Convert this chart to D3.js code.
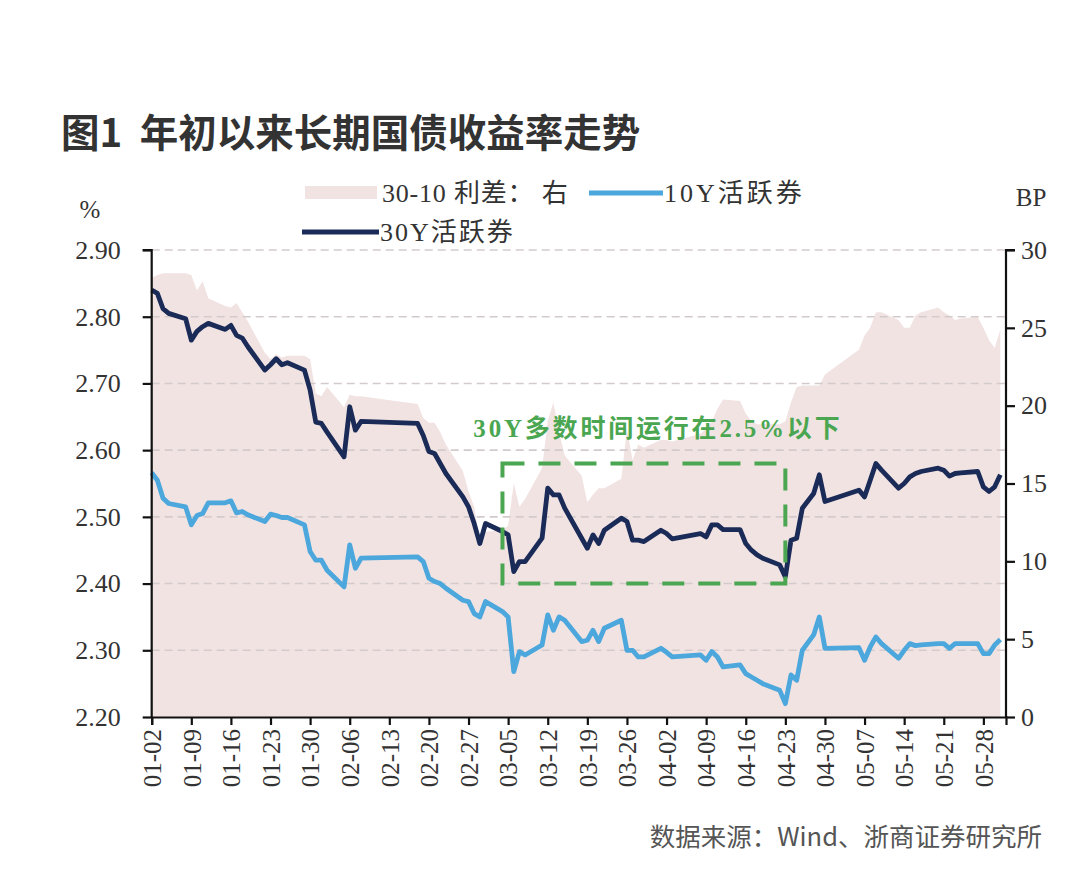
<!DOCTYPE html>
<html><head><meta charset="utf-8">
<script src="https://cdn.jsdelivr.net/npm/d3@7"></script>
<style>body{margin:0;background:#fff}</style>
</head><body>
<svg id="c" width="1082" height="880"></svg>
<script>
const dates = ["01-02","01-03","01-04","01-05","01-08","01-09","01-10","01-11","01-12","01-15","01-16","01-17","01-18","01-19","01-22","01-23","01-24","01-25","01-26","01-29","01-30","01-31","02-01","02-02","02-05","02-06","02-07","02-08","02-18","02-19","02-20","02-21","02-22","02-23","02-26","02-27","02-28","02-29","03-01","03-04","03-05","03-06","03-07","03-08","03-11","03-12","03-13","03-14","03-15","03-18","03-19","03-20","03-21","03-22","03-25","03-26","03-27","03-28","03-29","04-01","04-02","04-03","04-08","04-09","04-10","04-11","04-12","04-15","04-16","04-17","04-18","04-19","04-22","04-23","04-24","04-25","04-26","04-28","04-29","04-30","05-06","05-07","05-08","05-09","05-10","05-13","05-14","05-15","05-16","05-17","05-20","05-21","05-22","05-23","05-24","05-27","05-28","05-29","05-30","05-31"];
const y30 = [2.840,2.835,2.812,2.805,2.797,2.765,2.778,2.785,2.790,2.781,2.787,2.772,2.768,2.755,2.720,2.728,2.737,2.728,2.731,2.720,2.690,2.642,2.640,2.627,2.590,2.665,2.630,2.643,2.640,2.622,2.598,2.595,2.580,2.565,2.530,2.515,2.490,2.460,2.490,2.478,2.473,2.418,2.433,2.433,2.468,2.543,2.533,2.533,2.513,2.468,2.453,2.473,2.460,2.480,2.498,2.493,2.465,2.465,2.463,2.480,2.475,2.467,2.475,2.470,2.488,2.488,2.481,2.481,2.460,2.450,2.443,2.438,2.428,2.410,2.465,2.468,2.513,2.535,2.563,2.523,2.540,2.530,2.555,2.580,2.570,2.543,2.550,2.560,2.565,2.568,2.573,2.570,2.561,2.565,2.566,2.568,2.545,2.538,2.545,2.563];
const y10 = [2.566,2.555,2.528,2.520,2.515,2.488,2.502,2.505,2.521,2.521,2.524,2.506,2.508,2.503,2.493,2.504,2.502,2.499,2.499,2.488,2.448,2.435,2.435,2.420,2.395,2.458,2.423,2.438,2.440,2.433,2.408,2.403,2.400,2.393,2.375,2.373,2.355,2.350,2.373,2.358,2.350,2.268,2.298,2.293,2.308,2.353,2.330,2.350,2.345,2.313,2.315,2.330,2.313,2.333,2.345,2.300,2.300,2.290,2.290,2.303,2.297,2.290,2.293,2.285,2.298,2.290,2.275,2.278,2.265,2.260,2.255,2.250,2.240,2.220,2.263,2.255,2.300,2.323,2.350,2.303,2.304,2.285,2.305,2.320,2.310,2.288,2.300,2.310,2.307,2.308,2.310,2.310,2.303,2.310,2.310,2.310,2.295,2.295,2.308,2.316];
const spread = [28.2,28.4,28.5,28.5,28.5,28.4,27.4,28.0,26.9,26.4,26.3,26.6,26.0,25.4,23.4,23.0,23.3,23.1,23.2,23.2,23.0,20.8,20.6,21.2,19.9,20.7,20.6,20.6,20.1,19.2,18.9,18.9,18.3,17.5,15.8,14.5,13.5,11.3,11.9,12.0,12.3,15.0,13.5,14.0,16.0,19.0,20.2,18.3,16.8,15.5,13.8,14.3,14.7,14.7,15.3,18.5,16.5,17.5,17.3,17.8,17.8,17.7,18.2,18.5,19.0,19.8,20.4,20.3,19.5,19.0,18.8,18.8,18.8,19.0,20.2,21.2,21.3,21.3,21.3,22.0,23.6,24.5,25.0,26.0,26.0,25.5,25.0,25.0,25.8,26.0,26.3,26.0,25.8,25.5,25.6,25.7,25.0,24.2,23.7,24.9];
const leftTicks = [2.20,2.30,2.40,2.50,2.60,2.70,2.80,2.90];
const rightTicks = [0,5,10,15,20,25,30];
const xTickLabels = ["01-02","01-09","01-16","01-23","01-30","02-06","02-13","02-20","02-27","03-05","03-12","03-19","03-26","04-02","04-09","04-16","04-23","04-30","05-07","05-14","05-21","05-28"];
const xDomain = ["01-02","06-01"];
const boxDates = ["03-04","04-23"];
const boxYields = [2.40,2.58];
const title = "图1  年初以来长期国债收益率走势";
const note = "30Y多数时间运行在2.5%以下";
const source = "数据来源：Wind、浙商证券研究所";

const parse = s => d3.timeParse("%Y-%m-%d")("2024-" + s);
const rows = dates.map((d,i)=>({d:parse(d), a:y30[i], b:y10[i], s:spread[i]}));

const svg = d3.select("#c");
const L = 151.7, R = 1006, T = 250, B = 717;
const x = d3.scaleTime().domain(xDomain.map(parse)).range([L,R]);
const yl = d3.scaleLinear().domain([2.2,2.9]).range([B,T]);
const yr = d3.scaleLinear().domain([0,30]).range([B,T]);

const serif = "'Liberation Serif','Times New Roman','Noto Sans CJK SC',serif";
const cjk = "'Liberation Serif','Noto Sans CJK SC',serif";

// title
svg.append("text").attr("x",61).attr("y",147).attr("font-family","'Noto Sans CJK SC',sans-serif")
  .attr("font-weight","bold").attr("font-size",38.5).attr("fill","#333").attr("xml:space","preserve").text(title);

// area
svg.append("path").datum(rows).attr("fill","#f2e3e3")
  .attr("d", d3.area().x(d=>x(d.d)).y0(yr(0)).y1(d=>yr(d.s)));

// gridlines
svg.append("g").selectAll("line").data(leftTicks.filter(t=>t>2.2)).join("line")
  .attr("x1",L).attr("x2",R).attr("y1",d=>yl(d)).attr("y2",d=>yl(d))
  .attr("stroke","#d3cbcb").attr("stroke-width",1.6).attr("stroke-dasharray","8,5");

// lines
svg.append("path").datum(rows).attr("fill","none").attr("stroke","#4ba7dc").attr("stroke-width",4.8)
  .attr("stroke-linejoin","round").attr("d", d3.line().x(d=>x(d.d)).y(d=>yl(d.b)));
svg.append("path").datum(rows).attr("fill","none").attr("stroke","#1b2b58").attr("stroke-width",4.8)
  .attr("stroke-linejoin","round").attr("d", d3.line().x(d=>x(d.d)).y(d=>yl(d.a)));

// box annotation
const bx0 = x(parse(boxDates[0])), bx1 = x(parse(boxDates[1]));
const by0 = yl(boxYields[1]), by1 = yl(boxYields[0]);
svg.append("rect").attr("x",bx0).attr("y",by0).attr("width",bx1-bx0).attr("height",by1-by0)
  .attr("fill","none").attr("stroke","#4ba651").attr("stroke-width",4).attr("stroke-dasharray","22,14");
svg.append("text").attr("x",(bx0+bx1)/2+14).attr("y",by0-26).attr("text-anchor","middle")
  .attr("font-family",cjk).attr("font-weight","bold").attr("font-size",25).attr("fill","#4ba651")
  .attr("letter-spacing",2.8).text(note);

// axes
const gl = svg.append("g").attr("transform",`translate(${L},0)`)
  .call(d3.axisLeft(yl).tickValues(leftTicks).tickFormat(d3.format(".2f")).tickSize(9).tickPadding(22));
const gr = svg.append("g").attr("transform",`translate(${R},0)`)
  .call(d3.axisRight(yr).tickValues(rightTicks).tickSize(9).tickPadding(6));
const gb = svg.append("g").attr("transform",`translate(0,${B})`)
  .call(d3.axisBottom(x).tickValues(xTickLabels.map(parse)).tickFormat(d3.timeFormat("%m-%d")).tickSize(8));
[gl,gr,gb].forEach(g=>{
  g.select(".domain").attr("stroke","#111").attr("stroke-width",2.2);
  g.selectAll(".tick line").attr("stroke","#111").attr("stroke-width",2.2);
  g.selectAll("text").attr("font-family",serif).attr("font-size",26).attr("fill","#333");
});
gl.select(".domain").attr("d",`M-9,${T}H0V${B}`);
gr.select(".domain").attr("d",`M9,${T}H0V${B}`);
gb.selectAll(".tick text").attr("font-size",25).attr("transform","rotate(-90)")
  .attr("text-anchor","end").attr("x",-12).attr("y",0).attr("dy","0.35em");

// axis units
svg.append("text").attr("x",90).attr("y",218).attr("text-anchor","middle").attr("font-family",serif)
  .attr("font-size",25).attr("fill","#333").text("%");
svg.append("text").attr("x",1031).attr("y",206).attr("text-anchor","middle").attr("font-family",serif)
  .attr("font-size",25).attr("fill","#333").text("BP");

// legend
const lg = svg.append("g").attr("font-family",cjk).attr("font-size",26).attr("fill","#333");
lg.append("rect").attr("x",305).attr("y",186).attr("width",72).attr("height",13).attr("fill","#f2e3e3");
lg.append("text").attr("x",382).attr("y",202).attr("xml:space","preserve").attr("letter-spacing",0.8).text("30-10 利差： 右");
lg.append("line").attr("x1",589).attr("x2",663).attr("y1",193).attr("y2",193).attr("stroke","#4ba7dc").attr("stroke-width",4.8);
lg.append("text").attr("x",664).attr("y",202).attr("letter-spacing",3).text("10Y活跃券");
lg.append("line").attr("x1",302).attr("x2",379).attr("y1",232).attr("y2",232).attr("stroke","#1b2b58").attr("stroke-width",4.8);
lg.append("text").attr("x",380).attr("y",241).attr("letter-spacing",2).text("30Y活跃券");

// source
svg.append("text").attr("x",1042).attr("y",846).attr("text-anchor","end")
  .attr("font-family","'Noto Sans CJK SC',sans-serif").attr("font-size",25.5).attr("fill","#555").text(source);
</script>
</body></html>
